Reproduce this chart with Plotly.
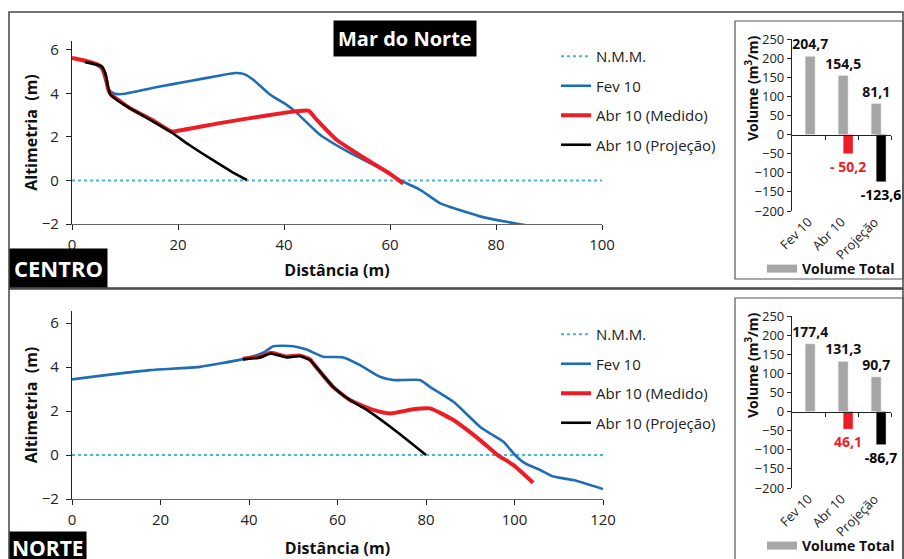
import plotly.graph_objects as go

W, H = 904, 559
FONT = "Open Sans"

# ---------------- DATA: CENTRO ----------------
c_nmm_x = [0, 100]
c_nmm_y = [0, 0]
c_fev_x = [0, 2.5, 4.5, 5.6, 6.3, 7.0, 7.8, 8.7, 10, 16.6, 22, 28, 30.8, 32.5, 34.2, 37.4, 40.5, 42.1, 46.8, 53.1, 59.4, 62, 65.7, 69.4, 73, 77, 82, 86.7]
c_fev_y = [5.62, 5.45, 5.3, 5.1, 4.6, 4.15, 4.0, 3.96, 3.98, 4.31, 4.55, 4.82, 4.93, 4.88, 4.62, 3.93, 3.47, 3.17, 2.1, 1.18, 0.41, 0.0, -0.43, -1.04, -1.35, -1.65, -1.9, -2.1]
c_med_x = [0, 2.5, 4.5, 5.6, 6.3, 6.8, 7.5, 9, 10.9, 15, 18.8, 20, 27.9, 33.6, 40, 42.1, 44.6, 46.2, 49.9, 56.2, 60, 62.5]
c_med_y = [5.62, 5.5, 5.35, 5.2, 4.8, 4.2, 3.9, 3.65, 3.32, 2.8, 2.25, 2.28, 2.63, 2.86, 3.1, 3.17, 3.2, 2.78, 1.87, 0.87, 0.3, -0.15]
c_proj_x = [2.5, 4.5, 5.6, 6.3, 6.8, 7.2, 9, 10.9, 15, 18.8, 22, 26, 30, 33]
c_proj_y = [5.43, 5.33, 5.23, 4.9, 4.3, 3.95, 3.6, 3.32, 2.75, 2.2, 1.65, 1.02, 0.42, 0.02]

# ---------------- DATA: NORTE ----------------
n_nmm_x = [0, 120]
n_nmm_y = [0, 0]
n_fev_x = [0, 17.6, 28.9, 38.3, 43.2, 45.5, 50, 53, 56.8, 61.3, 65, 69.6, 72.6, 78.6, 80.9, 86.2, 92.2, 94.5, 97.5, 100.1, 102.4, 105.8, 108.8, 113.3, 120]
n_fev_y = [3.44, 3.86, 4.01, 4.35, 4.65, 4.95, 4.95, 4.8, 4.47, 4.44, 4.1, 3.56, 3.41, 3.41, 3.1, 2.42, 1.29, 0.98, 0.6, 0.0, -0.38, -0.68, -0.98, -1.14, -1.55]
n_med_x = [38.6, 42.5, 44.9, 48.5, 51.5, 53.8, 54.5, 59, 62.8, 68.1, 71.9, 77.1, 80.9, 86.2, 92.2, 96.2, 99.7, 104.2]
n_med_y = [4.38, 4.47, 4.65, 4.48, 4.52, 4.35, 4.17, 3.1, 2.5, 2.05, 1.89, 2.08, 2.12, 1.59, 0.68, 0.0, -0.45, -1.26]
n_proj_x = [38.6, 42.5, 44.9, 48.5, 51.5, 53.8, 54.5, 59, 62.8, 66.6, 73.4, 80]
n_proj_y = [4.35, 4.44, 4.62, 4.44, 4.5, 4.32, 4.17, 3.1, 2.5, 2.05, 1.06, 0.0]

# ---------------- DATA: volumes ----------------
bar_cats = ["Fev 10", "Abr 10", "Projeção"]
c_total = [204.7, 154.5, 81.1]
c_total_lbl = ["204,7", "154,5", "81,1"]
c_diff = [None, -50.2, -123.6]
c_diff_lbl = ["", "- 50,2", "-123,6"]
n_total = [177.4, 131.3, 90.7]
n_total_lbl = ["177,4", "131,3", "90,7"]
n_diff = [None, -46.1, -86.7]
n_diff_lbl = ["", "46,1", "-86,7"]

BLUE = "#1f6db5"
RED = "#ee1c25"
BLACK = "#000000"
NMM = "#4ab3d6"
GRAY = "#a6a6a6"


def xd(a, b):
    return [a / W, b / W]


def yd(top, bottom):
    return [1 - bottom / H, 1 - top / H]


fig = go.Figure()


def add_profile(xa, ya, leg, nx, ny, fx, fy, mx, my, px, py):
    fig.add_trace(go.Scatter(x=nx, y=ny, mode="lines", name="N.M.M.", line=dict(color=NMM, width=2, dash="dot"),
                             xaxis=xa, yaxis=ya, legend=leg, legendgroup=leg + "a"))
    fig.add_trace(go.Scatter(x=fx, y=fy, mode="lines", name="Fev 10", line=dict(color=BLUE, width=2.6, shape="spline", smoothing=0.5),
                             xaxis=xa, yaxis=ya, legend=leg, legendgroup=leg + "b"))
    fig.add_trace(go.Scatter(x=mx, y=my, mode="lines", name="Abr 10 (Medido)", line=dict(color=RED, width=4, shape="spline", smoothing=0.5),
                             xaxis=xa, yaxis=ya, legend=leg, legendgroup=leg + "c"))
    fig.add_trace(go.Scatter(x=px, y=py, mode="lines", name="Abr 10 (Projeção)", line=dict(color=BLACK, width=2.6, shape="spline", smoothing=0.5),
                             xaxis=xa, yaxis=ya, legend=leg, legendgroup=leg + "d"))


add_profile("x", "y", "legend", c_nmm_x, c_nmm_y, c_fev_x, c_fev_y, c_med_x, c_med_y, c_proj_x, c_proj_y)
add_profile("x2", "y2", "legend2", n_nmm_x, n_nmm_y, n_fev_x, n_fev_y, n_med_x, n_med_y, n_proj_x, n_proj_y)


def add_bars(xa, ya, leg, total, total_lbl, diff, diff_lbl):
    fig.add_trace(go.Bar(x=bar_cats, y=total, text=total_lbl, textposition="outside", cliponaxis=False,
                         constraintext="none",
                         textfont=dict(size=14, color="#111", family=FONT, weight="bold"),
                         marker=dict(color=GRAY), width=0.3, offset=-0.1, showlegend=False,
                         xaxis=xa, yaxis=ya))
    fig.add_trace(go.Bar(x=bar_cats, y=diff, text=diff_lbl, textposition="outside", cliponaxis=False,
                         constraintext="none",
                         textfont=dict(size=14, color=["#000", RED, "#000"], family=FONT, weight="bold"),
                         marker=dict(color=["rgba(0,0,0,0)", RED, BLACK]), width=0.3, offset=0.05, showlegend=False,
                         xaxis=xa, yaxis=ya))
    fig.add_trace(go.Scatter(x=[None], y=[None], mode="lines", name="<b>Volume Total</b>",
                             line=dict(color=GRAY, width=8), xaxis=xa, yaxis=ya, legend=leg))


add_bars("x3", "y3", "legend3", c_total, c_total_lbl, c_diff, c_diff_lbl)
add_bars("x4", "y4", "legend4", n_total, n_total_lbl, n_diff, n_diff_lbl)

line_axis = dict(showgrid=False, zeroline=False, showline=True, linecolor="#222", linewidth=1.3, automargin=False,
                 ticks="outside", ticklen=5, tickcolor="#222", tickfont=dict(size=15, color="#222", family=FONT))

title_font = dict(size=16, color="#111", family=FONT, weight="bold")

bar_y = dict(showgrid=False, zeroline=False, showline=True, linecolor="#222", linewidth=1.2, automargin=False,
             ticks="outside", ticklen=4, tickcolor="#222", range=[-200, 250], dtick=50,
             tickfont=dict(size=13, color="#222", family=FONT))

bar_x = dict(showgrid=False, zeroline=False, showline=False, ticks="", range=[-0.5, 2.5], tickangle=-45,
             automargin=False, tickfont=dict(size=13, color="#222", family=FONT), type="category")

# bar-chart plot areas (pixel rows)
TB = (39, 211)
BB = (316, 488)


def zero_pos(top, bottom):
    frac = 200 / 450
    y0 = 1 - bottom / H
    y1 = 1 - top / H
    return y0 + frac * (y1 - y0)


legend_common = dict(xanchor="left", yanchor="top", bgcolor="rgba(0,0,0,0)", tracegroupgap=7,
                     font=dict(size=15, color="#222", family=FONT))

fig.update_layout(
    width=W, height=H, margin=dict(l=0, r=0, t=0, b=0, autoexpand=False),
    paper_bgcolor="white", plot_bgcolor="white",
    font=dict(family=FONT, color="#222"),
    barmode="overlay",
    xaxis=dict(line_axis, domain=xd(72, 602), range=[0, 100], dtick=20, anchor="y", linecolor="#666",
               ticklabelstandoff=2, title=dict(text="Distância (m)", font=title_font, standoff=11)),
    yaxis=dict(line_axis, domain=yd(41, 224), range=[-2, 6.4], tickvals=[-2, 0, 2, 4, 6], anchor="x",
               ticklabelstandoff=4, title=dict(text="Altimetria  (m)", font=title_font, standoff=0)),
    xaxis2=dict(line_axis, domain=xd(72, 603), range=[0, 120], dtick=20, anchor="y2", linecolor="#666",
                ticklabelstandoff=2, title=dict(text="Distância (m)", font=title_font, standoff=14)),
    yaxis2=dict(line_axis, domain=yd(311, 499), range=[-2, 6.55], tickvals=[-2, 0, 2, 4, 6], anchor="x2",
                ticklabelstandoff=4, title=dict(text="Altimetria  (m)", font=title_font, standoff=0)),
    xaxis3=dict(bar_x, domain=xd(792, 891), anchor="y3"),
    yaxis3=dict(bar_y, domain=yd(*TB), anchor="x3"),
    xaxis4=dict(bar_x, domain=xd(792, 891), anchor="y4"),
    yaxis4=dict(bar_y, domain=yd(*BB), anchor="x4"),
    xaxis5=dict(overlaying="x3", anchor="free", position=zero_pos(*TB), range=[-0.5, 2.5], domain=xd(792, 891),
                tickvals=[0.5, 1.5, 2.5], showticklabels=False, ticks="outside", ticklen=4, tickcolor="#222",
                automargin=False,
                showline=True, linecolor="#222", linewidth=1.2, showgrid=False, zeroline=False),
    xaxis6=dict(overlaying="x4", anchor="free", position=zero_pos(*BB), range=[-0.5, 2.5], domain=xd(792, 891),
                tickvals=[0.5, 1.5, 2.5], showticklabels=False, ticks="outside", ticklen=4, tickcolor="#222",
                automargin=False,
                showline=True, linecolor="#222", linewidth=1.2, showgrid=False, zeroline=False),
    legend=dict(legend_common, x=556 / W, y=1 - 40 / H),
    legend2=dict(legend_common, x=556 / W, y=1 - 318 / H),
    legend3=dict(legend_common, x=762 / W, y=1 - 253 / H, font=dict(size=14, color="#111", family=FONT)),
    legend4=dict(legend_common, x=762 / W, y=1 - 530 / H, font=dict(size=14, color="#111", family=FONT)),
)

# panel frames
frame = dict(type="rect", xref="paper", yref="paper", line=dict(color="#444", width=1.5), fillcolor="rgba(0,0,0,0)")
fig.add_shape(frame, x0=9 / W, x1=903 / W, y0=1 - 288 / H, y1=1 - 12 / H)
fig.add_shape(frame, x0=9 / W, x1=903 / W, y0=-0.05, y1=1 - 289 / H)
box = dict(type="rect", xref="paper", yref="paper", line=dict(color="#555", width=1.2), fillcolor="rgba(0,0,0,0)")
fig.add_shape(box, x0=735 / W, x1=903 / W, y0=1 - 279 / H, y1=1 - 21 / H)
fig.add_shape(box, x0=735 / W, x1=903 / W, y0=-0.05, y1=1 - 298 / H)

# trace for overlay axes so they render
fig.add_trace(go.Scatter(x=[None], y=[None], xaxis="x5", yaxis="y3", showlegend=False, hoverinfo="skip"))
fig.add_trace(go.Scatter(x=[None], y=[None], xaxis="x6", yaxis="y4", showlegend=False, hoverinfo="skip"))

# bar chart y titles
vol_font = dict(size=14, color="#111", family=FONT, weight="bold")
fig.add_annotation(text="Volume (m<sup>3</sup>/m)", xref="paper", yref="paper", x=752 / W, y=1 - 88 / H,
                   xanchor="center", yanchor="middle", textangle=-90, showarrow=False, font=vol_font)
fig.add_annotation(text="Volume (m<sup>3</sup>/m)", xref="paper", yref="paper", x=752 / W, y=1 - 365 / H,
                   xanchor="center", yanchor="middle", textangle=-90, showarrow=False, font=vol_font)

# labels
fig.add_annotation(text="<b>Mar do Norte</b>", xref="paper", yref="paper", x=405 / W, y=1 - 38 / H,
                   xanchor="center", yanchor="middle",
                   showarrow=False, font=dict(size=20, color="white", family=FONT), bgcolor="black", borderpad=4)
fig.add_annotation(text="<b>CENTRO</b>", xref="paper", yref="paper", x=9 / W, y=1 - 288 / H, xanchor="left", yanchor="bottom",
                   showarrow=False, font=dict(size=22, color="white", family=FONT), bgcolor="black", borderpad=4)
fig.add_annotation(text="<b>NORTE</b>", xref="paper", yref="paper", x=9 / W, y=1 - 531 / H, xanchor="left", yanchor="top",
                   showarrow=False, font=dict(size=21, color="white", family=FONT), bgcolor="black", borderpad=2)

fig.write_html("out.html")
